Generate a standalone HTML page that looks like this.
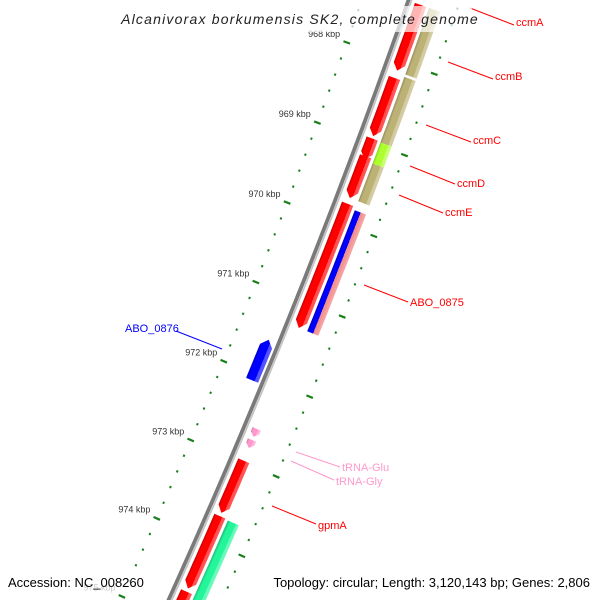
<!DOCTYPE html>
<html><head><meta charset="utf-8"><style>
html,body{margin:0;padding:0;background:#fff;width:600px;height:600px;overflow:hidden}
svg{display:block;overflow:hidden}
text{font-family:"Liberation Sans","DejaVu Sans",sans-serif}
</style></head><body>
<svg id="map" width="600" height="600" viewBox="0 0 600 600" xmlns="http://www.w3.org/2000/svg">
<defs id="defs"></defs>
<g id="ticks"></g>
<g id="backbone"></g>
<g id="genes"></g>
<g id="labels">
  <line x1="470" y1="8" x2="514" y2="25" stroke="#ff0000" stroke-width="1"/>
  <text x="516" y="26" font-size="11" fill="#ff0000">ccmA</text>
  <line x1="448" y1="62" x2="493" y2="79" stroke="#ff0000" stroke-width="1"/>
  <text x="495" y="80" font-size="11" fill="#ff0000">ccmB</text>
  <line x1="426" y1="125" x2="471" y2="142" stroke="#ff0000" stroke-width="1"/>
  <text x="473" y="144" font-size="11" fill="#ff0000">ccmC</text>
  <line x1="410" y1="166" x2="455" y2="184" stroke="#ff0000" stroke-width="1"/>
  <text x="457" y="187" font-size="11" fill="#ff0000">ccmD</text>
  <line x1="399" y1="195" x2="443" y2="213" stroke="#ff0000" stroke-width="1"/>
  <text x="445" y="216" font-size="11" fill="#ff0000">ccmE</text>
  <line x1="364" y1="285" x2="408" y2="302" stroke="#ff0000" stroke-width="1"/>
  <text x="410" y="306" font-size="11" fill="#ff0000">ABO_0875</text>
  <line x1="176" y1="331" x2="222" y2="349" stroke="#0000ff" stroke-width="1"/>
  <text x="125" y="332" font-size="11" fill="#0000ff">ABO_0876</text>
  <line x1="296" y1="452" x2="340" y2="467" stroke="#ff99cc" stroke-width="1"/>
  <text x="342" y="471" font-size="11" fill="#ff99cc">tRNA-Glu</text>
  <line x1="291" y1="461" x2="334" y2="480" stroke="#ff99cc" stroke-width="1"/>
  <text x="336" y="485" font-size="11" fill="#ff99cc">tRNA-Gly</text>
  <line x1="272" y1="506" x2="316" y2="524" stroke="#ff0000" stroke-width="1"/>
  <text x="318" y="529" font-size="11" fill="#ff0000">gpmA</text>
</g>
<rect x="128" y="6" width="344" height="26" fill="#fff" opacity="0.7"/>
<text x="300" y="24" text-anchor="middle" font-size="14" font-style="italic" fill="#222" style="letter-spacing:1.2px">Alcanivorax borkumensis SK2, complete genome</text>
<rect x="4" y="572" width="126" height="22" fill="#fff" opacity="0.75"/>
<rect x="256" y="572" width="338" height="22" fill="#fff" opacity="0.75"/>
<text x="8" y="587" font-size="13" fill="#000">Accession: NC_008260</text>
<text x="590" y="587" text-anchor="end" font-size="13" fill="#000">Topology: circular; Length: 3,120,143 bp; Genes: 2,806</text>
</svg>
<script>
// ---- data ----
const majorTicks = [967, 968, 969, 970, 971, 972, 973, 974, 975, 976];
const tickLabels = ["967 kbp","968 kbp","969 kbp","970 kbp","971 kbp","972 kbp","973 kbp","974 kbp","975 kbp","976 kbp"];
const geneNames  = ["r1","r2","r3","r4","ABO_0875","r6","gpmA","r8","ccmA","ccmB","ccmD","ccmE","ABO_0875b","g1","ABO_0876","tRNA-Glu","tRNA-Gly"];
const geneStart  = [967.3,968.20,968.95,969.17,969.76,972.98,973.68,974.64,967.3,968.15,968.96,969.22,969.80,973.69,971.57,972.58,972.72];
const geneEnd    = [968.11,968.92,969.21,969.69,971.31,973.64,974.60,975.8,968.12,968.96,969.22,969.69,971.31,975.8,972.08,972.68,972.82];
const geneStrand = [1,1,1,1,1,1,1,1,0,0,0,0,0,0,-1,1,1];
const geneTrack  = [0,0,0,0,0,0,0,0,1,1,1,1,2,1,3,4,4];
const geneColor  = ["#ff0000","#ff0000","#ff0000","#ff0000","#ff0000","#ff0000","#ff0000","#ff0000","#bdb275","#bdb275","#adff2f","#bdb275","#0000ff","#22f59a","#0000ff","#ff99cc","#ff99cc"];

// ---- geometry ----
const R = 7450, PXK = 86, nx = 0.928, ny = 0.371, tx = -0.371, ty = 0.928;
const U0 = 170.8, RAD0 = 387.5;
function uOf(k){ return -91 + PXK*(k-968); }
function pt(k, r){
  const phi = (uOf(k)-U0)/R;
  const rad = RAD0 - R + (R+r)*Math.cos(phi);
  const u = U0 + (R+r)*Math.sin(phi);
  return [rad*nx + u*tx, rad*ny + u*ty];
}
const tracks = [[6,18],[21,33],[21,33],[-18,-5],[7,16]];
const NS = "http://www.w3.org/2000/svg";
function mk(tag, attrs, parent){ const e=document.createElementNS(NS,tag); for(const a in attrs) e.setAttribute(a,attrs[a]); parent.appendChild(e); return e; }
const f = p => p[0].toFixed(1)+","+p[1].toFixed(1);

// ruler
const tg = document.getElementById('ticks');
[-45, 48].forEach(rr => {
  for (let i=0; i<majorTicks.length-1; i++){
    for (let j=0; j<5; j++){
      const k = majorTicks[i] + j*0.2;
      const major = j===0;
      const a = pt(k, rr-(major?3.5:1)), b = pt(k, rr+(major?3.5:1));
      const l = mk('line',{x1:a[0],y1:a[1],x2:b[0],y2:b[1],stroke:'#1a7f1a','stroke-width':2.2,'stroke-linecap':'butt'},tg);
      
      
    }
  }
});
majorTicks.forEach((k,i) => {
  const p = pt(k, -52);
  const t = mk('text',{x:p[0],y:p[1]-3,'text-anchor':'end','font-size':9,fill:'#333'},tg);
  t.textContent = tickLabels[i];
  
  
});

// backbone
const bg = document.getElementById('backbone');
function arcPath(r, k0, k1){ let d=""; for(let s=0;s<=20;s++){ const k=k0+(k1-k0)*s/20; d+=(s?"L":"M")+f(pt(k,r)); } return d; }
mk('path',{d:arcPath(-1,966.5,975.9),stroke:'#7a7a7a','stroke-width':3.8,fill:'none'},bg);
mk('path',{d:arcPath(2,966.5,975.9),stroke:'#c4c4c4','stroke-width':1.8,fill:'none'},bg);

// genes
const gg = document.getElementById('genes');
const defs = document.getElementById('defs');
function shade(c, amt){ const n=parseInt(c.slice(1),16); let r=n>>16,g=(n>>8)&255,b=n&255;
  if(amt<0){ r*=1+amt; g*=1+amt; b*=1+amt; } else { r+=(255-r)*amt; g+=(255-g)*amt; b+=(255-b)*amt; }
  return "rgb("+Math.round(r)+","+Math.round(g)+","+Math.round(b)+")"; }
geneStart.forEach((s,i) => {
  const e = geneEnd[i], [r0,r1] = tracks[geneTrack[i]], rm=(r0+r1)/2, st=geneStrand[i];
  let h = Math.min(0.08, (e-s)*0.5);
  const N=8; let pts=[];
  let bs = st<0 ? s+h : s, be = st>0 ? e-h : e;
  for(let j=0;j<=N;j++) pts.push(pt(bs+(be-bs)*j/N, r1));
  if(st>0) pts.push(pt(e, rm));
  for(let j=N;j>=0;j--) pts.push(pt(bs+(be-bs)*j/N, r0));
  if(st<0) pts.push(pt(s, rm));
  const km=(s+e)/2, a=pt(km,r0), b=pt(km,r1);
  const gid='gr'+i;
  const lg = mk('linearGradient',{id:gid,gradientUnits:'userSpaceOnUse',x1:a[0],y1:a[1],x2:b[0],y2:b[1]},defs);
  const c=geneColor[i];
  const isSplit = geneNames[i]==="ABO_0875b";
  if(isSplit){
    mk('stop',{offset:'0',  'stop-color':shade(c,-0.3)},lg);
    mk('stop',{offset:'0.15','stop-color':c},lg);
    mk('stop',{offset:'0.5','stop-color':c},lg);
    mk('stop',{offset:'0.5','stop-color':'#f08a8a'},lg);
    mk('stop',{offset:'1','stop-color':'#f6a8a8'},lg);
  } else {
    mk('stop',{offset:'0','stop-color':shade(c,-0.2)},lg);
    mk('stop',{offset:'0.2','stop-color':c},lg);
    mk('stop',{offset:'0.7','stop-color':c},lg);
    mk('stop',{offset:'0.7','stop-color':shade(c,0.3)},lg);
    mk('stop',{offset:'1','stop-color':shade(c,0.35)},lg);
  }
  const poly = mk('polygon',{points:pts.map(f).join(' '),fill:'url(#'+gid+')'},gg);
  
  
});
</script>
</body></html>
